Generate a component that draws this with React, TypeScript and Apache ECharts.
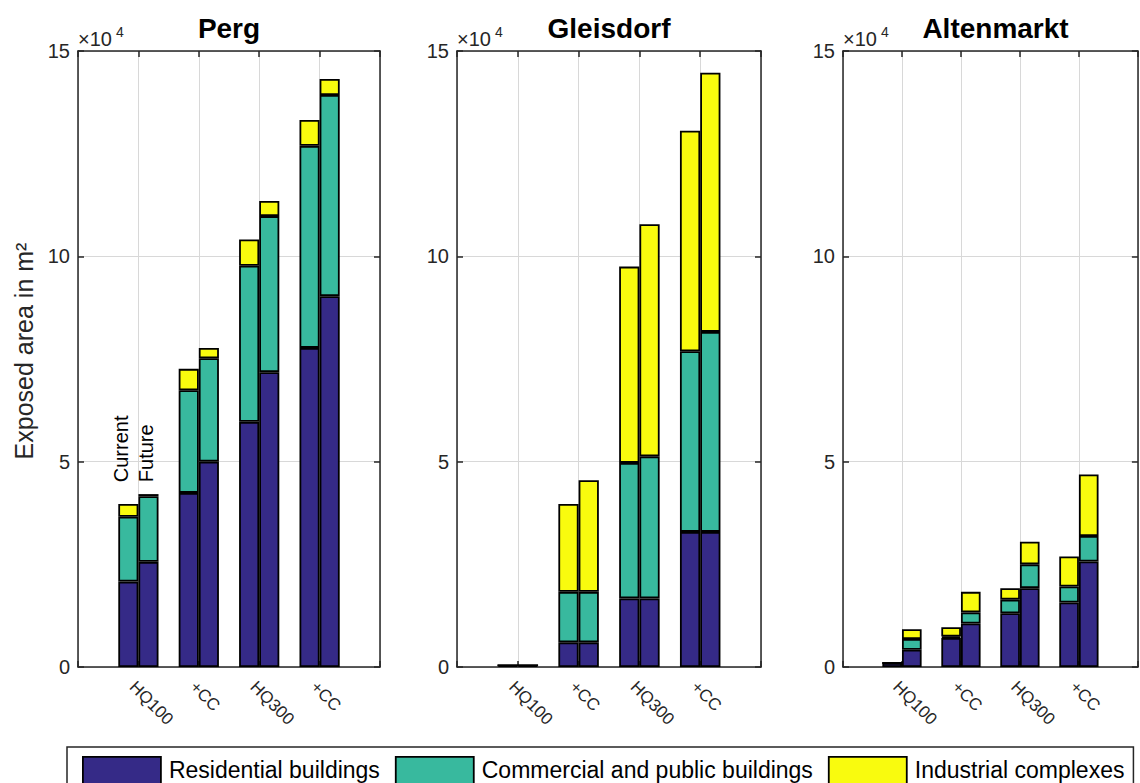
import React, { useEffect, useRef } from 'react';
import * as echarts from 'echarts';

// ---------- data ----------
const categories = ['', 'HQ100', '+CC', 'HQ300', '+CC', ''];
const panelNames = ['Perg', 'Gleisdorf', 'Altenmarkt'];
const typeNames = ['Residential buildings', 'Commercial and public buildings', 'Industrial complexes'];
const yTicks = [0, 50000, 100000, 150000];

// values in m², order: HQ100, +CC, HQ300, +CC
const pergCurrentRes = [20800, 42400, 59700, 77700];
const pergCurrentCom = [15800, 25000, 38000, 49200];
const pergCurrentInd = [3100, 5200, 6400, 6300];
const pergFutureRes = [25600, 50000, 71800, 90300];
const pergFutureCom = [16000, 25200, 38000, 49000];
const pergFutureInd = [500, 2500, 3700, 3900];

const gleisdorfCurrentRes = [400, 6000, 16700, 32900];
const gleisdorfCurrentCom = [0, 12300, 33000, 44000];
const gleisdorfCurrentInd = [0, 21400, 47800, 53700];
const gleisdorfFutureRes = [400, 6000, 16700, 32900];
const gleisdorfFutureCom = [0, 12300, 34600, 48700];
const gleisdorfFutureInd = [0, 27200, 56500, 63100];

const altenmarktCurrentRes = [1000, 7100, 13100, 15700];
const altenmarktCurrentCom = [0, 300, 3300, 3900];
const altenmarktCurrentInd = [0, 2300, 2800, 7300];
const altenmarktFutureRes = [4200, 10600, 19200, 25700];
const altenmarktFutureCom = [2600, 2700, 5800, 6200];
const altenmarktFutureInd = [2400, 5000, 5500, 15000];

const annotationTexts = ['Current', 'Future'];
const annotationCategory = 1; // HQ100
const annotationValue = 45000;

// ---------- styles / layout ----------
const typeColors = ['#352a87', '#38b99e', '#f9fb0e'];
const FONT = '"Liberation Sans", Arial, Helvetica, sans-serif';
const AXIS = '#262626';
const GRID = '#d8d8d8';
const panelLefts = [78, 457, 843];
const panelWidths = [302, 304, 305];
const panelTop = 51;
const panelHeight = 616;

const pad = (a: number[]) => [null, ...a, null];

export default function App() {
  const ref = useRef<HTMLDivElement>(null);
  useEffect(() => {
    const chart = echarts.init(ref.current!, undefined, { renderer: 'svg' });
    const panelData = [
      [
        [pergCurrentRes, pergCurrentCom, pergCurrentInd],
        [pergFutureRes, pergFutureCom, pergFutureInd],
      ],
      [
        [gleisdorfCurrentRes, gleisdorfCurrentCom, gleisdorfCurrentInd],
        [gleisdorfFutureRes, gleisdorfFutureCom, gleisdorfFutureInd],
      ],
      [
        [altenmarktCurrentRes, altenmarktCurrentCom, altenmarktCurrentInd],
        [altenmarktFutureRes, altenmarktFutureCom, altenmarktFutureInd],
      ],
    ];

    const grids: any[] = [];
    const xAxes: any[] = [];
    const yAxes: any[] = [];
    const series: any[] = [];
    const lineStyle = { color: AXIS, width: 1.5 };

    panelNames.forEach((_, p) => {
      grids.push({ left: panelLefts[p], top: panelTop, width: panelWidths[p], height: panelHeight });
      xAxes.push({
        type: 'category', gridIndex: p, data: categories, boundaryGap: false, position: 'bottom',
        axisLine: { show: true, onZero: false, lineStyle },
        axisTick: { show: true, inside: true, length: 6, interval: 0, lineStyle },
        axisLabel: {
          show: true, interval: 0, rotate: -45, align: 'left', verticalAlign: 'top', margin: 11,
          fontSize: 17, color: AXIS, fontFamily: FONT,
        },
        splitLine: { show: true, interval: 0, lineStyle: { color: GRID, width: 1 } },
      });
      xAxes.push({
        type: 'category', gridIndex: p, data: categories, boundaryGap: false, position: 'top',
        axisLine: { show: true, onZero: false, lineStyle },
        axisTick: { show: true, inside: true, length: 6, interval: 0, lineStyle },
        axisLabel: { show: false },
        splitLine: { show: false },
      });
      yAxes.push({
        type: 'value', gridIndex: p, min: yTicks[0], max: yTicks[yTicks.length - 1],
        interval: yTicks[1] - yTicks[0], position: 'left',
        axisLine: { show: true, onZero: false, lineStyle },
        axisTick: { show: true, inside: true, length: 6, lineStyle },
        axisLabel: {
          show: true, margin: 8, fontSize: 20, color: AXIS, fontFamily: FONT,
          formatter: (v: number) => String(v / 10000),
        },
        splitLine: { show: true, lineStyle: { color: GRID, width: 1 } },
      });
      yAxes.push({
        type: 'value', gridIndex: p, min: yTicks[0], max: yTicks[yTicks.length - 1],
        interval: yTicks[1] - yTicks[0], position: 'right',
        axisLine: { show: true, onZero: false, lineStyle },
        axisTick: { show: true, inside: true, length: 6, lineStyle },
        axisLabel: { show: false },
        splitLine: { show: false },
      });

      panelData[p].forEach((scenario, s) => {
        scenario.forEach((vals, t) => {
          series.push({
            type: 'bar',
            name: typeNames[t],
            xAxisIndex: 2 * p,
            yAxisIndex: 2 * p,
            stack: `p${p}s${s}`,
            data: pad(vals),
            barWidth: '33.3%',
            barGap: '0%',
            itemStyle: { color: typeColors[t], borderColor: '#000', borderWidth: 1.8 },
            emphasis: { disabled: true },
            z: 3,
          });
        });
      });
    });

    chart.setOption({
      animation: false,
      grid: grids,
      xAxis: xAxes,
      yAxis: yAxes,
      series,
      legend: {
        data: typeNames,
        left: 67,
        top: 747,
        width: 1060,
        icon: 'rect',
        itemWidth: 78,
        itemHeight: 27,
        itemGap: 15,
        padding: [9, 9, 9, 15],
        borderColor: AXIS,
        borderWidth: 1.5,
        selectedMode: false,
        itemStyle: { borderColor: '#000', borderWidth: 1.8 },
        textStyle: { fontSize: 23, color: '#000', fontFamily: FONT, padding: [0, 0, 0, 3], lineHeight: 24 },
      },
    });

    const graphics: any[] = [];
    panelNames.forEach((name, p) => {
      const cx = panelLefts[p] + panelWidths[p] / 2;
      graphics.push({
        type: 'text', x: cx, y: 28, z: 10,
        style: {
          text: name, font: `bold 28px ${FONT}`, fill: '#000',
          align: 'center', verticalAlign: 'middle', textAlign: 'center', textVerticalAlign: 'middle',
        },
      });
      graphics.push({
        type: 'text', x: panelLefts[p], y: 38.5, z: 10,
        style: {
          text: '×10', font: `20px ${FONT}`, fill: AXIS,
          align: 'left', verticalAlign: 'middle', textAlign: 'left', textVerticalAlign: 'middle',
        },
      });
      graphics.push({
        type: 'text', x: panelLefts[p] + 38, y: 32, z: 10,
        style: {
          text: '4', font: `14px ${FONT}`, fill: AXIS,
          align: 'left', verticalAlign: 'middle', textAlign: 'left', textVerticalAlign: 'middle',
        },
      });
    });
    graphics.push({
      type: 'text', x: 24, y: 351, rotation: Math.PI / 2, z: 10,
      style: {
        text: 'Exposed area in m²', font: `25px ${FONT}`, fill: AXIS,
        align: 'center', verticalAlign: 'middle', textAlign: 'center', textVerticalAlign: 'middle',
      },
    });
    const anchor = chart.convertToPixel({ xAxisIndex: 0, yAxisIndex: 0 }, [annotationCategory, annotationValue]) as number[];
    const annOffsets = [-17, 8];
    annotationTexts.forEach((txt, i) => {
      graphics.push({
        type: 'text', x: anchor[0] + annOffsets[i], y: anchor[1], rotation: Math.PI / 2, z: 10,
        style: {
          text: txt, font: `20px ${FONT}`, fill: '#000',
          align: 'left', verticalAlign: 'middle', textAlign: 'left', textVerticalAlign: 'middle',
        },
      });
    });
    chart.setOption({ graphic: graphics });

    return () => chart.dispose();
  }, []);

  return (
    <div
      ref={ref}
      style={{ position: 'fixed', left: 0, top: 0, width: 1140, height: 783, background: '#fff', overflow: 'hidden' }}
    />
  );
}
